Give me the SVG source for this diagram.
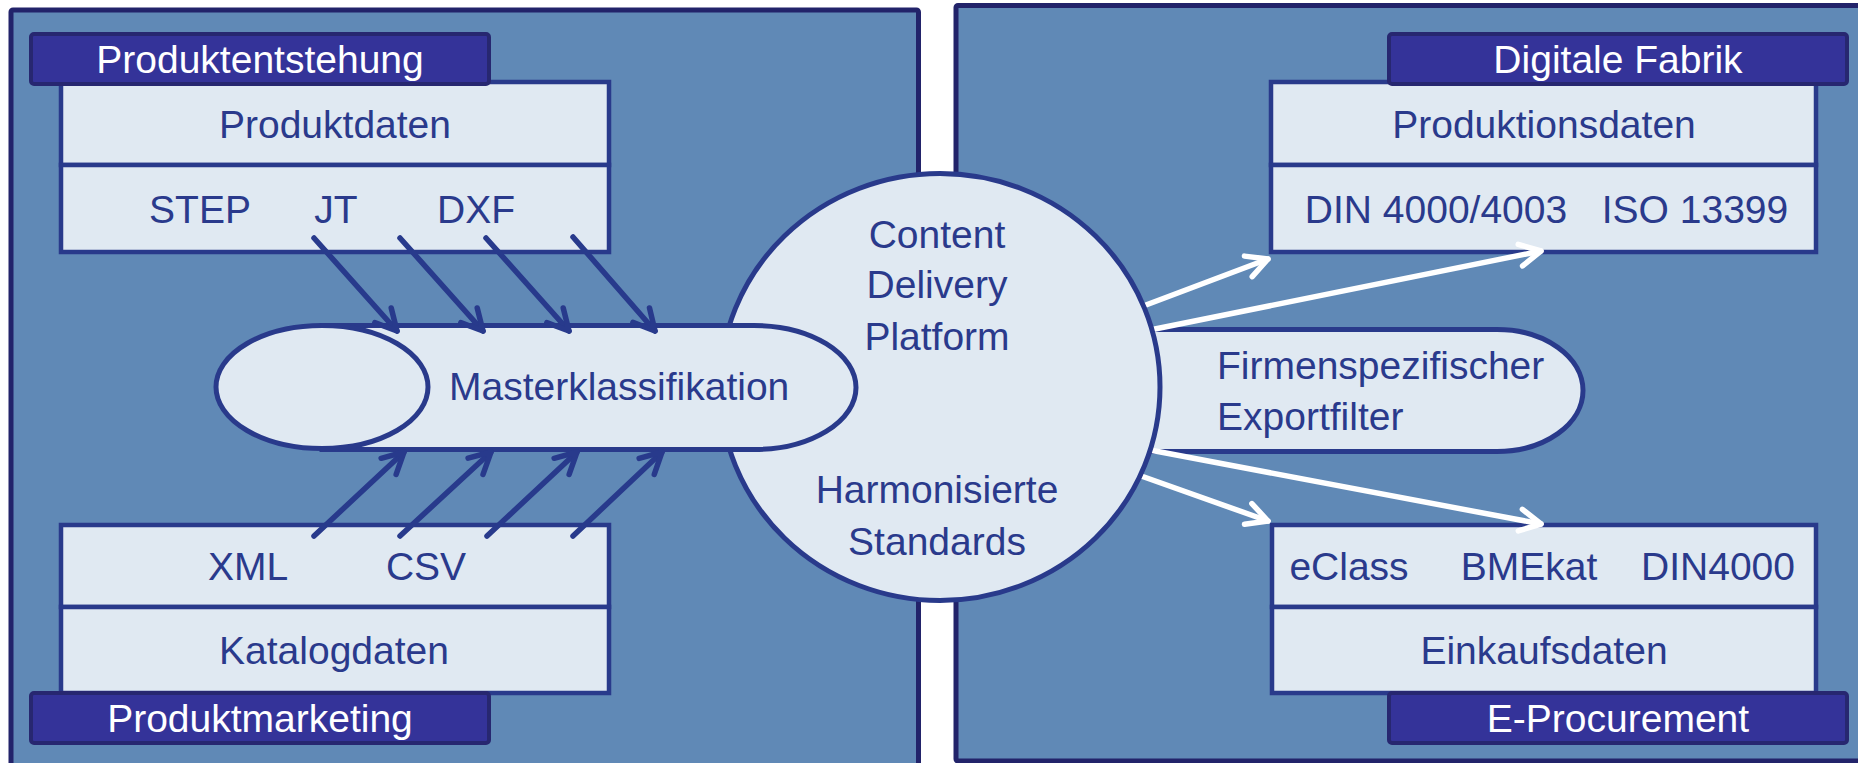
<svg xmlns="http://www.w3.org/2000/svg" width="1858" height="763" viewBox="0 0 1858 763">
  <style>
    .panel { fill: #6089b6; stroke: #22236a; stroke-width: 5; }
    .box { fill: #e0e9f2; stroke: #293a8b; stroke-width: 4.5; }
    .shape { fill: #e0e9f2; stroke: #293a8b; stroke-width: 5; }
    .tag { fill: #343399; stroke: #272770; stroke-width: 4; }
    .t { font-family: "Liberation Sans", Arial, sans-serif; font-size: 39px; fill: #2a3a8c; }
    .tw { font-family: "Liberation Sans", Arial, sans-serif; font-size: 39px; fill: #ffffff; }
    .c { text-anchor: middle; }
    .dark { stroke: #283a8c; stroke-width: 5.5; fill: none; stroke-linecap: round; }
    .light { stroke: #ffffff; stroke-width: 5.5; fill: none; stroke-linecap: round; }
  </style>
  <defs>
    <marker id="ahDark" viewBox="-26 -16 30 32" refX="0" refY="0" markerWidth="30" markerHeight="32" orient="auto" markerUnits="userSpaceOnUse">
      <path d="M-21,-11 L0,0 L-21,11" fill="none" stroke="#283a8c" stroke-width="5.5" stroke-linecap="round" stroke-linejoin="round"/>
    </marker>
    <marker id="ahLight" viewBox="-26 -16 30 32" refX="0" refY="0" markerWidth="30" markerHeight="32" orient="auto" markerUnits="userSpaceOnUse">
      <path d="M-21,-11 L0,0 L-21,11" fill="none" stroke="#ffffff" stroke-width="5.5" stroke-linecap="round" stroke-linejoin="round"/>
    </marker>
  </defs>

  <rect width="1858" height="763" fill="#ffffff"/>

  <!-- two background areas -->
  <g id="area-left">
    <rect class="panel" x="11" y="10" width="907.5" height="790" rx="2"/>
  </g>
  <g id="area-right">
    <rect class="panel" x="956" y="5.5" width="940" height="755.5" rx="2"/>
  </g>

  <!-- left top: product data -->
  <g id="produktdaten">
    <rect class="box" x="61" y="82" width="548" height="83"/>
    <rect class="box" x="61" y="165" width="548" height="87"/>
    <text class="t c" x="335" y="138">Produktdaten</text>
    <text class="t c" x="200" y="223">STEP</text>
    <text class="t c" x="336" y="223">JT</text>
    <text class="t c" x="476" y="223">DXF</text>
  </g>
  <g id="produktentstehung">
    <rect class="tag" x="31" y="34" width="458" height="50" rx="3"/>
    <text class="tw c" x="260" y="73">Produktentstehung</text>
  </g>

  <!-- left bottom: catalogue data -->
  <g id="katalogdaten">
    <rect class="box" x="61" y="525" width="548" height="82"/>
    <rect class="box" x="61" y="607" width="548" height="86"/>
    <text class="t c" x="248" y="580">XML</text>
    <text class="t c" x="426" y="580">CSV</text>
    <text class="t c" x="334" y="664">Katalogdaten</text>
  </g>
  <g id="produktmarketing">
    <rect class="tag" x="31" y="693" width="458" height="50" rx="3"/>
    <text class="tw c" x="260" y="732">Produktmarketing</text>
  </g>

  <!-- right top: production data -->
  <g id="produktionsdaten">
    <rect class="box" x="1271" y="82" width="545" height="83"/>
    <rect class="box" x="1271" y="165" width="545" height="87"/>
    <text class="t c" x="1544" y="138">Produktionsdaten</text>
    <text class="t c" x="1436" y="223">DIN 4000/4003</text>
    <text class="t c" x="1695" y="223">ISO 13399</text>
  </g>
  <g id="digitale-fabrik">
    <rect class="tag" x="1389" y="34" width="458" height="50" rx="3"/>
    <text class="tw c" x="1618" y="73">Digitale Fabrik</text>
  </g>

  <!-- right bottom: purchasing data -->
  <g id="einkaufsdaten">
    <rect class="box" x="1272" y="525" width="544" height="82"/>
    <rect class="box" x="1272" y="607" width="544" height="86"/>
    <text class="t c" x="1349" y="580">eClass</text>
    <text class="t c" x="1529" y="580">BMEkat</text>
    <text class="t c" x="1718" y="580">DIN4000</text>
    <text class="t c" x="1544" y="664">Einkaufsdaten</text>
  </g>
  <g id="e-procurement">
    <rect class="tag" x="1389" y="693" width="458" height="50" rx="3"/>
    <text class="tw c" x="1618" y="732">E-Procurement</text>
  </g>

  <!-- export filter tongue, partly under the platform -->
  <g id="exportfilter">
    <path class="shape" d="M1100,329.5 H1497 A86,61 0 0 1 1497,451.5 H1100 Z"/>
    <text class="t" x="1217" y="379">Firmenspezifischer</text>
    <text class="t" x="1217" y="430">Exportfilter</text>
  </g>

  <!-- white output connectors (behind the platform) -->
  <g id="connectors-out">
    <line class="light" x1="1130" y1="311" x2="1268" y2="259" marker-end="url(#ahLight)"/>
    <line class="light" x1="1150" y1="330" x2="1541" y2="251" marker-end="url(#ahLight)"/>
    <line class="light" x1="1150" y1="450" x2="1541" y2="524" marker-end="url(#ahLight)"/>
    <line class="light" x1="1130" y1="472" x2="1268" y2="521" marker-end="url(#ahLight)"/>
  </g>

  <!-- central platform -->
  <g id="platform">
    <ellipse class="shape" cx="940" cy="387" rx="220" ry="213.5"/>
    <text class="t c" x="937" y="248">Content</text>
    <text class="t c" x="937" y="298">Delivery</text>
    <text class="t c" x="937" y="350">Platform</text>
    <text class="t c" x="937" y="503">Harmonisierte</text>
    <text class="t c" x="937" y="555">Standards</text>
  </g>

  <!-- master classification tongue -->
  <g id="masterklassifikation">
    <path class="shape" d="M322,325.5 H754 A102,62 0 0 1 754,449.5 H322 Z"/>
    <ellipse class="shape" cx="322" cy="387" rx="106" ry="61.5"/>
    <text class="t" x="449" y="400">Masterklassifikation</text>
  </g>

  <!-- dark input connectors -->
  <g id="connectors-in">
    <line class="dark" x1="314" y1="238" x2="397" y2="331" marker-end="url(#ahDark)"/>
    <line class="dark" x1="400" y1="238" x2="483" y2="331" marker-end="url(#ahDark)"/>
    <line class="dark" x1="486" y1="238" x2="569" y2="331" marker-end="url(#ahDark)"/>
    <line class="dark" x1="573" y1="237" x2="655" y2="331" marker-end="url(#ahDark)"/>
    <line class="dark" x1="314" y1="536" x2="404" y2="452" marker-end="url(#ahDark)"/>
    <line class="dark" x1="400" y1="536" x2="491" y2="452" marker-end="url(#ahDark)"/>
    <line class="dark" x1="487" y1="536" x2="577" y2="452" marker-end="url(#ahDark)"/>
    <line class="dark" x1="573" y1="536" x2="662" y2="452" marker-end="url(#ahDark)"/>
  </g>
</svg>
